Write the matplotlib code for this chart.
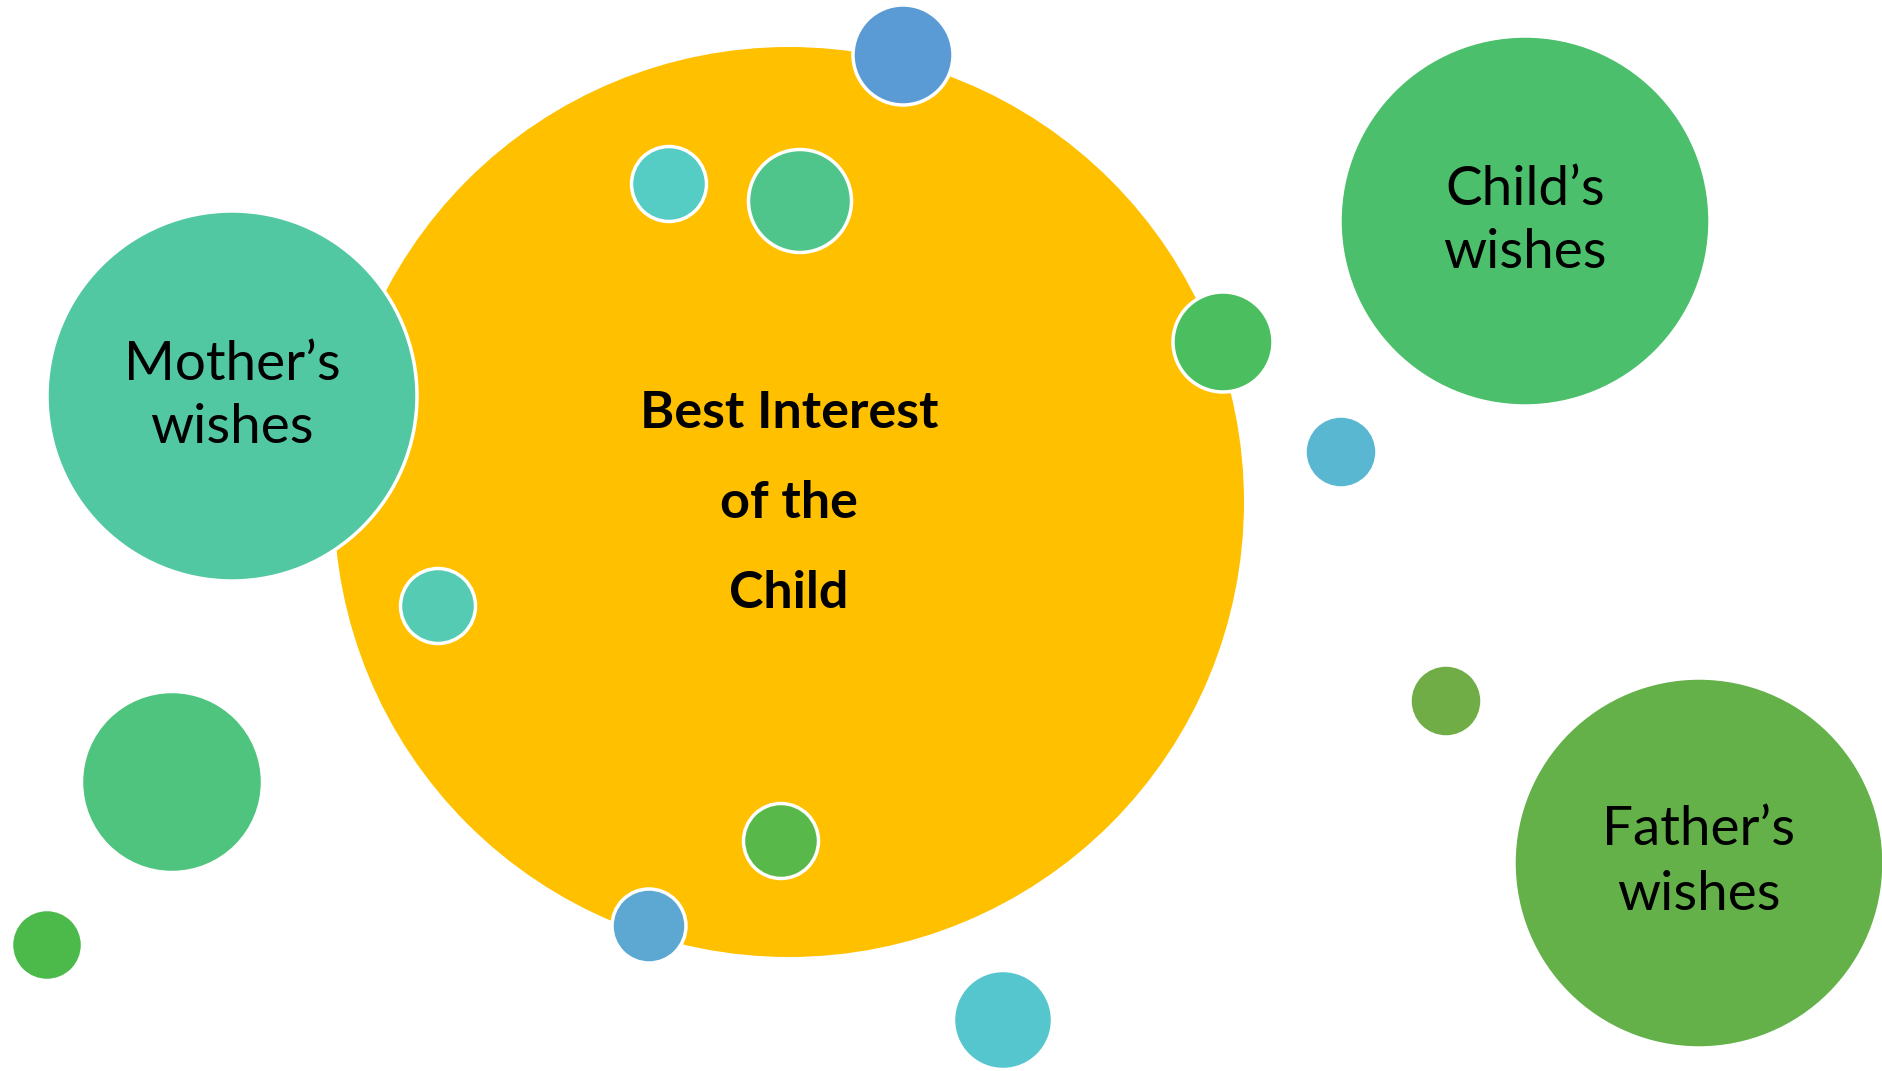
import matplotlib.pyplot as plt
from matplotlib.patches import Circle

# bubbles: centre x, centre y, radius (pixel units of the 1883x1071 picture), colour
bubble_x = [789, 232, 1525, 1699, 172, 47, 903, 669, 800, 1223, 1341, 438, 781, 649, 1003, 1446]
bubble_y = [502, 396, 221, 863, 782, 945, 55, 184, 201, 342, 452, 606, 841, 926, 1020, 701]
bubble_r = [455, 185, 185, 185, 90.5, 35.5, 50, 37.5, 51.5, 50, 36, 37.5, 37.5, 37, 49.5, 36]
bubble_colors = ["#FFC000", "#51C8A2", "#4BBF6B", "#64B14A", "#4FC47E", "#4BBA4A",
                 "#5B9BD5", "#55CCC4", "#4FC48B", "#4BBF5F", "#59B7D2", "#55CBB4",
                 "#58B84A", "#5CA8D3", "#56C6CE", "#70AD47"]

# text labels
label_lines = ["Mother\u2019s", "wishes", "Child\u2019s", "wishes", "Father\u2019s", "wishes"]
label_x = [232, 232, 1525, 1525, 1699, 1699]
label_y = [380, 443, 205, 268, 845, 910]

title_lines = ["Best Interest", "of the", "Child"]
title_x = 789
title_y = [428, 518, 608]

fig = plt.figure(figsize=(18.83, 10.71), dpi=100)
ax = fig.add_axes([0, 0, 1, 1])
ax.set_xlim(0, 1883)
ax.set_ylim(1071, 0)
ax.set_aspect("equal")
ax.axis("off")

for i in range(len(bubble_x)):
    ec = "none" if i == 0 else "white"
    ax.add_patch(Circle((bubble_x[i], bubble_y[i]), bubble_r[i], facecolor=bubble_colors[i],
                        edgecolor=ec, linewidth=2.5, zorder=i + 1))

for t, x, y in zip(label_lines, label_x, label_y):
    ax.text(x, y, t, ha="center", va="baseline", fontsize=39.5, family="Lato", color="black", zorder=50)

for t, y in zip(title_lines, title_y):
    ax.text(title_x, y, t, ha="center", va="baseline", fontsize=37.5, family="Lato",
            fontweight="bold", color="black", zorder=50)

fig.savefig("out.png", dpi=100, facecolor="white")
